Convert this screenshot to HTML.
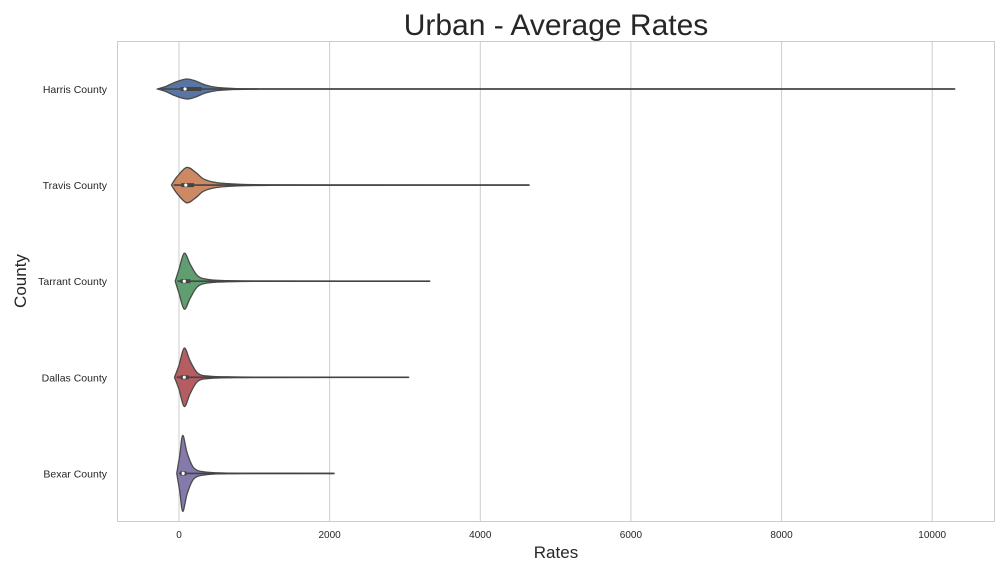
<!DOCTYPE html>
<html><head><meta charset="utf-8"><style>
body{margin:0;background:#fff;font-family:"Liberation Sans",sans-serif}
</style></head><body>
<svg width="1008" height="576" xmlns="http://www.w3.org/2000/svg" font-family="Liberation Sans, sans-serif">
<text x="556" y="35" font-size="30" text-anchor="middle" fill="#262626">Urban - Average Rates</text>
<rect x="117.5" y="41.5" width="877" height="480" fill="#fff" stroke="#cccccc"/>
<g id="grid"></g><g id="violins"></g><g id="ticks"></g>
<text x="556" y="558" font-size="17" text-anchor="middle" fill="#262626">Rates</text>
<text transform="translate(26,281) rotate(-90)" font-size="17" text-anchor="middle" fill="#262626">County</text>
</svg>
<script>
const categories=["Harris County","Travis County","Tarrant County","Dallas County","Bexar County"];
const colors=["#5975a4","#cc8963","#5f9e6e","#b55d60","#857aab"];
const xTicks=[0,2000,4000,6000,8000,10000];
const maxVals=[10300,4650,3330,3050,2060];
const q1Vals=[20,30,20,20,15];
const q3Vals=[300,200,150,130,100];
const medians=[80,90,70,70,55];
const profHarris=[[-290,0],[-180,0.06],[-50,0.17],[100,0.25],[220,0.2],[350,0.1],[500,0.04],[700,0.015],[1000,0.005],[2000,0.002],[10300,0.001]];
const profTravis=[[-100,0],[-30,0.2],[100,0.44],[220,0.32],[330,0.15],[500,0.06],[800,0.02],[1200,0.006],[2000,0.002],[4650,0.001]];
const profTarrant=[[-50,0],[0,0.3],[70,0.7],[150,0.42],[250,0.13],[400,0.04],[700,0.012],[1200,0.004],[3330,0.001]];
const profDallas=[[-60,0],[0,0.3],[70,0.73],[150,0.4],[250,0.1],[400,0.03],[700,0.01],[1200,0.004],[3050,0.001]];
const profBexar=[[-30,0],[10,0.45],[50,0.95],[110,0.5],[200,0.13],[350,0.035],[600,0.01],[1000,0.003],[2060,0.001]];
const profiles=[profHarris,profTravis,profTarrant,profDallas,profBexar];
const NS="http://www.w3.org/2000/svg";
const x=v=>179+v*0.07532;
const y=i=>89+i*96.1;
const w=d=>d*40;
function mk(t,a,p){const e=document.createElementNS(NS,t);for(const k in a)e.setAttribute(k,a[k]);document.getElementById(p).appendChild(e);return e;}
function spline(pts){
  let d='';
  for(let i=0;i<pts.length-1;i++){
    const p0=pts[Math.max(i-1,0)],p1=pts[i],p2=pts[i+1],p3=pts[Math.min(i+2,pts.length-1)];
    const c1=[p1[0]+(p2[0]-p0[0])/6,p1[1]+(p2[1]-p0[1])/6];
    const c2=[p2[0]-(p3[0]-p1[0])/6,p2[1]-(p3[1]-p1[1])/6];
    d+=' C'+c1.join(',')+' '+c2.join(',')+' '+p2.join(',');
  }
  return d;
}
xTicks.forEach(t=>{
  const g=mk('line',{x1:x(t),x2:x(t),y1:42,y2:521,stroke:'#cccccc','stroke-width':1},'grid');
  
  
  const l=mk('text',{x:x(t),y:538,'font-size':10,'text-anchor':'middle',fill:'#262626'},'ticks');
  l.textContent=t;
  
  
});
categories.forEach((c,i)=>{
  const cy=y(i),p=profiles[i];
  const top=p.map(q=>[x(q[0]),cy-w(q[1])]);
  const bot=p.slice().reverse().map(q=>[x(q[0]),cy+w(q[1])]);
  let d='M'+top[0].join(',')+spline(top)+' L'+bot[0].join(',')+spline(bot)+' Z';
  const v=mk('path',{d:d,fill:colors[i],stroke:'#4a4a4a','stroke-width':1.3,'stroke-linejoin':'round'},'violins');
  
  
  const wl=mk('line',{x1:x(p[0][0]+30),x2:x(maxVals[i]),y1:cy,y2:cy,stroke:'#444','stroke-width':1.6},'violins');
  
  
  const b=mk('line',{x1:x(q1Vals[i]),x2:x(q3Vals[i]),y1:cy,y2:cy,stroke:'#444','stroke-width':4},'violins');
  
  
  const m=mk('circle',{cx:x(medians[i]),cy:cy,r:1.6,fill:'#fff'},'violins');
  
  
  const l=mk('text',{x:107,y:cy+4,'font-size':10.5,'text-anchor':'end',fill:'#262626'},'ticks');
  l.textContent=c;
  
  
});
</script>
</body></html>
